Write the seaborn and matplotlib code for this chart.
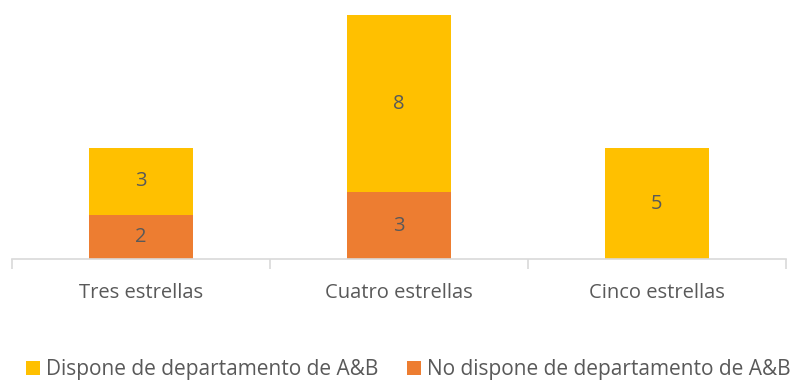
import matplotlib
matplotlib.use("Agg")
import matplotlib.pyplot as plt
import seaborn as sns
import pandas as pd
from matplotlib.patches import Patch

categories = ["Tres estrellas", "Cuatro estrellas", "Cinco estrellas"]
dispone = [3, 8, 5]
no_dispone = [2, 3, 0]
series_names = ["Dispone de departamento de A&B", "No dispone de departamento de A&B"]

YELLOW = "#FFC000"
ORANGE = "#ED7D31"
TEXT = "#595959"
AXIS = "#D9D9D9"

sns.set_theme(style="white")
plt.rcParams['font.family'] = ['Open Sans', 'DejaVu Sans']

totals = [a + b for a, b in zip(dispone, no_dispone)]
df = pd.DataFrame({"cat": categories, "total": totals, "no": no_dispone, "si": dispone})

fig = plt.figure(figsize=(7.94, 3.8), dpi=100)
ax = fig.add_axes([12/794, 1 - 259/380, (786-12)/794, (259-15)/380])

sns.barplot(data=df, x="cat", y="total", color=YELLOW, saturation=1, width=0.4, ax=ax, linewidth=0)
sns.barplot(data=df, x="cat", y="no", color=ORANGE, saturation=1, width=0.4, ax=ax, linewidth=0)

for i in range(len(categories)):
    if no_dispone[i] > 0:
        ax.text(i, no_dispone[i] / 2, str(no_dispone[i]), ha="center", va="center",
                fontsize=14.5, color=TEXT)
    if dispone[i] > 0:
        ax.text(i, no_dispone[i] + dispone[i] / 2, str(dispone[i]), ha="center", va="center",
                fontsize=14.5, color=TEXT)

ax.set_xlim(-0.5, 2.5)
ax.set_ylim(0, 11)
ax.set_xlabel("")
ax.set_ylabel("")
ax.set_yticks([])
for s in ["top", "right", "left"]:
    ax.spines[s].set_visible(False)
ax.spines["bottom"].set_color(AXIS)
ax.spines["bottom"].set_linewidth(1.2)

ax.set_xticks(range(len(categories)))
ax.set_xticklabels(categories, fontsize=14.5, color=TEXT)
ax.tick_params(axis="x", which="major", length=0, pad=17)
ax.set_xticks([-0.5, 0.5, 1.5, 2.5], minor=True)
ax.tick_params(axis="x", which="minor", bottom=True, length=7, width=1.2, color=AXIS, direction="out")

handles = [Patch(facecolor=YELLOW, edgecolor="none"), Patch(facecolor=ORANGE, edgecolor="none")]
fig.legend(handles, series_names, loc="center", bbox_to_anchor=(408.5/794, 1 - 370/380), ncol=2,
           frameon=False, fontsize=15, labelcolor=TEXT, handlelength=0.67, handleheight=0.67,
           handletextpad=0.29, columnspacing=1.4, borderpad=0, borderaxespad=0)

fig.savefig("out.png", dpi=100)
